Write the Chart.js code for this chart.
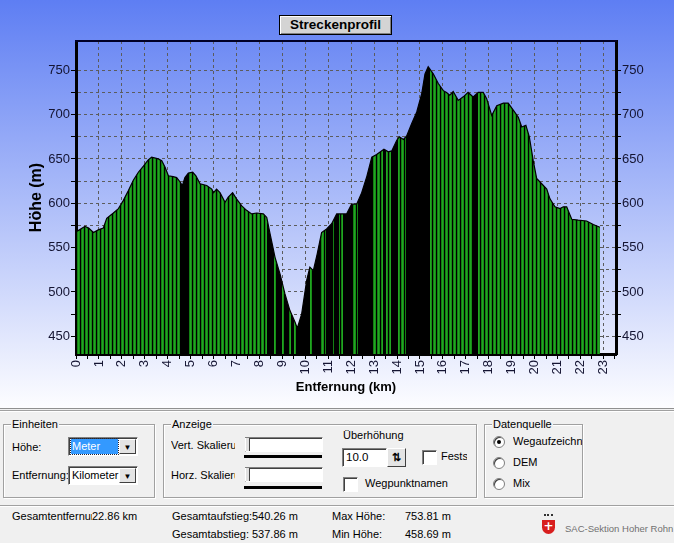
<!DOCTYPE html>
<html>
<head>
<meta charset="utf-8">
<script src="https://cdn.jsdelivr.net/npm/chart.js@4.4.0/dist/chart.umd.min.js"></script>
<style>
html, body { margin: 0; padding: 0; }
body { width: 674px; height: 543px; position: relative; overflow: hidden; background: #f0f0f0;
       font-family: "Liberation Sans", Arial, sans-serif; font-size: 11px; color: #000; }
.abs { position: absolute; white-space: nowrap; }
#plot { position: absolute; left: 0; top: 0; width: 674px; height: 408px;
        background: linear-gradient(#5e7ef3, #fdfdff); border-bottom: 1px solid #909090; }
#plot canvas { position: absolute; left: 0; top: 0; }
#title { position: absolute; left: 279px; top: 15px; width: 111px; height: 18px; border: 1px solid #000;
         background: #d4d4d4; box-shadow: inset 1px 1px #fff, inset -1px -1px #808080;
         font: bold 13.5px "Liberation Sans", Arial, sans-serif; text-align: center; line-height: 18px; }
.sep { position: absolute; left: 0; width: 674px; height: 1px; background: #a0a0a0; box-shadow: 0 1px #fff; }
.group { position: absolute; border: 1px solid #a0a0a0; box-shadow: 1px 1px #fff, inset 1px 1px #fff; }
.legend { position: absolute; top: -7px; left: 7px; background: #f0f0f0; padding: 0 1px; line-height: 13px; }
.sunken { position: absolute; background: #fff; border-top: 1px solid #808080; border-left: 1px solid #808080;
          border-right: 1px solid #fff; border-bottom: 1px solid #fff; box-shadow: inset 1px 1px #404040; box-sizing: border-box; }
.btn { position: absolute; background: #e4e4e4; border-top: 1px solid #fff; border-left: 1px solid #fff;
       border-right: 1px solid #404040; border-bottom: 1px solid #404040; box-sizing: border-box;
       font-size: 8px; text-align: center; line-height: 15px; }
.radio { position: absolute; width: 12px; height: 12px; border-radius: 50%; background: #fff;
         border: 1px solid #808080; box-sizing: border-box; box-shadow: inset 1px 1px #404040; }
.dot { position: absolute; left: 3px; top: 3px; width: 4px; height: 4px; border-radius: 50%; background: #000; }
.track { position: absolute; height: 3px; background: #000; }
.thumb { position: absolute; width: 3px; height: 13px; border-left: 1px solid #fff; border-right: 1px solid #404040; background: #e0e0e0; }
.clip { display: inline-block; overflow: hidden; vertical-align: top; }
</style>
</head>
<body>
<div id="plot">
  <canvas id="profile" width="674" height="408"></canvas>
  <div id="title">Streckenprofil</div>
</div>
<div class="sep" style="top:410px"></div>

<div class="group" style="left:3px;top:424px;width:150px;height:72px">
  <div class="legend">Einheiten</div>
</div>
<div class="abs" style="left:12px;top:441px">Höhe:</div>
<div class="sunken" style="left:68px;top:437px;width:70px;height:19px">
  <div class="abs" style="left:2px;top:1px;width:46px;height:15px;background:#3399ff;color:#fff;outline:1px dotted #223;line-height:15px;padding-left:1px">Meter</div>
  <div class="btn" style="left:50px;top:1px;width:17px;height:15px">▼</div>
</div>
<div class="abs" style="left:12px;top:469px">Entfernung:</div>
<div class="sunken" style="left:68px;top:466px;width:70px;height:19px">
  <div class="abs" style="left:3px;top:1px;line-height:15px">Kilometer</div>
  <div class="btn" style="left:50px;top:1px;width:17px;height:15px">▼</div>
</div>

<div class="group" style="left:163px;top:424px;width:312px;height:72px">
  <div class="legend">Anzeige</div>
</div>
<div class="abs" style="left:171px;top:439px;width:64px;overflow:hidden">Vert. Skalierung</div>
<div class="sunken" style="left:245px;top:437px;width:78px;height:15px"></div>
<div class="thumb" style="left:245px;top:438px"></div>
<div class="track" style="left:244px;top:455px;width:78px"></div>
<div class="abs" style="left:171px;top:469px;width:64px;overflow:hidden">Horz. Skalierung</div>
<div class="sunken" style="left:245px;top:467px;width:78px;height:15px"></div>
<div class="thumb" style="left:245px;top:468px"></div>
<div class="track" style="left:244px;top:486px;width:78px"></div>
<div class="abs" style="left:343px;top:429px">Überhöhung</div>
<div class="sunken" style="left:342px;top:448px;width:45px;height:19px">
  <div class="abs" style="left:3px;top:2px;font-size:11.5px">10.0</div>
</div>
<div class="btn" style="left:387px;top:448px;width:19px;height:19px;font-size:11px;line-height:17px;font-weight:bold">⇅</div>
<div class="sunken" style="left:422px;top:450px;width:15px;height:15px"></div>
<div class="abs" style="left:441px;top:450px;width:26px;overflow:hidden">Festsetzen</div>
<div class="sunken" style="left:343px;top:477px;width:15px;height:15px"></div>
<div class="abs" style="left:365px;top:477px">Wegpunktnamen</div>

<div class="group" style="left:484px;top:424px;width:97px;height:72px">
  <div class="legend">Datenquelle</div>
</div>
<div class="radio" style="left:493px;top:436px"><div class="dot"></div></div>
<div class="abs" style="left:513px;top:435px;width:69px;overflow:hidden">Wegaufzeichnung</div>
<div class="radio" style="left:493px;top:457px"></div>
<div class="abs" style="left:513px;top:456px">DEM</div>
<div class="radio" style="left:493px;top:478px"></div>
<div class="abs" style="left:513px;top:477px">Mix</div>

<div class="sep" style="top:505px"></div>
<div class="abs" style="left:12px;top:510px"><span class="clip" style="width:80px">Gesamtentfernung:</span>22.86 km</div>
<div class="abs" style="left:172px;top:510px"><span class="clip" style="width:80px">Gesamtaufstieg:</span>540.26 m</div>
<div class="abs" style="left:172px;top:528px"><span class="clip" style="width:80px">Gesamtabstieg:</span>537.86 m</div>
<div class="abs" style="left:332px;top:510px">Max Höhe:</div>
<div class="abs" style="left:405px;top:510px">753.81 m</div>
<div class="abs" style="left:332px;top:528px">Min Höhe:</div>
<div class="abs" style="left:405px;top:528px">458.69 m</div>
<div class="abs" style="left:542px;top:520px;width:13px;height:14px;background:#d81e1e;border-radius:0 0 7px 7px;color:#fff;font:bold 12px 'DejaVu Sans';text-align:center;line-height:13px">+</div>
<div class="abs" style="left:544px;top:514px;width:9px;height:6px;border-top:2px dotted #333"></div>
<div class="abs" style="left:565px;top:523px;font-size:9.5px;color:#707070">SAC-Sektion Hoher Rohn</div>

<script>
// elevation profile
var distKm = [0.0, 0.15, 0.39, 0.55, 0.76, 0.97, 1.19, 1.34, 1.63, 1.85,
    2.06, 2.28, 2.5, 2.72, 2.94, 3.15, 3.3, 3.59, 3.74, 3.88,
    4.03, 4.24, 4.39, 4.54, 4.64, 4.75, 4.9, 5.09, 5.23, 5.41,
    5.7, 5.92, 6.0, 6.13, 6.28, 6.5, 6.64, 6.83, 7.0, 7.23,
    7.44, 7.66, 7.88, 8.17, 8.32, 8.46, 8.68, 8.9, 9.11, 9.33,
    9.55, 9.65, 9.84, 10.06, 10.2, 10.35, 10.52, 10.71, 10.93, 11.15,
    11.37, 11.8, 12.02, 12.24, 12.46, 12.67, 12.9, 13.11, 13.43, 13.62,
    13.77, 13.99, 14.1, 14.28, 14.42, 14.64, 14.86, 15.08, 15.22, 15.36,
    15.58, 15.8, 16.02, 16.16, 16.3, 16.45, 16.67, 16.89, 17.1, 17.32,
    17.54, 17.76, 17.91, 18.13, 18.35, 18.64, 18.85, 19.07, 19.29, 19.44,
    19.62, 19.77, 19.94, 20.09, 20.31, 20.53, 20.67, 20.89, 21.11, 21.25,
    21.4, 21.62, 21.9, 22.27, 22.56, 22.85];
var heightM = [568, 570, 574, 572, 567, 570, 572, 583, 589, 594,
    603, 614, 626, 635, 642, 649, 652, 650, 648, 641,
    631, 630, 629, 624, 620, 629, 634, 635, 631, 622,
    620, 616, 612, 616, 612, 601, 607, 612, 605, 597,
    592, 588, 589, 588, 584, 566, 539, 520, 498, 479,
    466, 459, 475, 513, 528, 524, 543, 567, 571, 577,
    588, 588, 599, 599, 612, 629, 652, 655, 661, 658,
    659, 671, 675, 672, 676, 690, 703, 724, 746, 754,
    746, 735, 727, 725, 722, 726, 716, 720, 725, 720,
    725, 725, 718, 699, 710, 713, 713, 705, 697, 686,
    688, 675, 648, 628, 622, 616, 605, 596, 594, 596,
    596, 582, 581, 580, 576, 573];
var xLabelKm = [0, 1, 2, 3, 4, 5, 6, 7, 8, 9, 10, 11, 12, 13, 14, 15, 16, 17, 18, 19, 20, 21, 22, 23];
var yLabelM = [450, 500, 550, 600, 650, 700, 750];

// stretches where the recorded points sit so close that the bars merge to black
var denseKm = [[4.58, 4.9], [8.35, 8.62], [8.72, 8.98], [9.08, 9.28], [9.38, 9.5], [9.6, 10.22],
    [10.35, 10.68], [10.9, 11.15], [11.25, 11.48], [11.65, 12.05], [12.3, 12.95],
    [13.38, 13.52], [13.75, 14.05], [14.4, 15.45], [17.3, 17.55]];
var stripeColors = ['#000000', '#137f13', '#22a522', '#168c16'];

Chart.defaults.font.family = '"Liberation Sans", Arial, sans-serif';

function stripeFill(chart) {
    var area = chart.chartArea;
    if (!area) return '#168c16';
    var c = document.createElement('canvas');
    c.width = chart.width;
    c.height = 1;
    var g = c.getContext('2d');
    var xs = chart.scales.x;
    for (var px = Math.floor(area.left); px < Math.ceil(area.right); px++) {
        var km = xs.getValueForPixel(px + 0.5);
        var dense = denseKm.some(function(r) { return km >= r[0] && km <= r[1]; });
        g.fillStyle = dense ? '#000' : stripeColors[px % stripeColors.length];
        g.fillRect(px, 0, 1, 1);
    }
    return chart.ctx.createPattern(c, 'repeat');
}

var tickFont = {size: 13};
var tickColor = '#141432';
var gridGray = '#5c5c5c';

var yTicks = {
    stepSize: 25, includeBounds: false, autoSkip: false, maxTicksLimit: 100,
    padding: 1, color: tickColor, font: tickFont,
    callback: function(v) {
        if (v > 760) return null;
        return yLabelM.indexOf(v) >= 0 ? String(v) : '';
    }
};

var topLine = {
    id: 'topLine',
    afterDraw: function(chart) {
        var a = chart.chartArea, ctx = chart.ctx;
        ctx.save();
        ctx.strokeStyle = '#000028';
        ctx.lineWidth = 2;
        ctx.beginPath();
        ctx.moveTo(a.left - 1, a.top);
        ctx.lineTo(a.right + 1, a.top);
        ctx.stroke();
        ctx.restore();
    }
};

new Chart(document.getElementById('profile'), {
    type: 'line',
    data: {
        datasets: [{
            data: distKm.map(function(d, i) { return {x: d, y: heightM[i]}; }),
            borderColor: '#000',
            borderWidth: 1.2,
            pointRadius: 0,
            tension: 0,
            fill: 'start',
            backgroundColor: function(ctx) { return stripeFill(ctx.chart); }
        }]
    },
    options: {
        responsive: false,
        animation: false,
        layout: {padding: {top: 41, left: 0, right: 0, bottom: 0}},
        plugins: {legend: {display: false}, tooltip: {enabled: false}, title: {display: false}},
        scales: {
            x: {
                type: 'linear', min: 0, max: 23.55,
                afterFit: function(s) { s.height = 54; },
                ticks: {
                    stepSize: 0.5, includeBounds: false, autoSkip: false, maxTicksLimit: 100,
                    minRotation: 90, maxRotation: 90, padding: 1, color: tickColor, font: tickFont,
                    callback: function(v) { return xLabelKm.indexOf(v) >= 0 ? String(v) : ''; }
                },
                grid: {
                    color: function(ctx) { return ctx.tick && Number.isInteger(ctx.tick.value) ? gridGray : 'rgba(0,0,0,0)'; },
                    tickColor: '#000', tickLength: 5, tickBorderDash: [0, 0]
                },
                border: {width: 3, color: '#000', dash: [3, 3]},
                title: {display: true, text: 'Entfernung (km)', color: '#000',
                        font: {size: 13, weight: 'bold'}, padding: {top: 0, bottom: 13}}
            },
            y: {
                position: 'left', min: 430, max: 783,
                afterFit: function(s) { s.width = 76; },
                ticks: yTicks,
                grid: {color: gridGray, tickColor: '#000', tickLength: 5, tickBorderDash: [0, 0]},
                border: {width: 3, color: '#000', dash: [3, 3]},
                title: {display: true, text: 'Höhe (m)', color: '#000',
                        font: {size: 16, weight: 'bold'}, padding: {top: 27, bottom: 0}}
            },
            y2: {
                position: 'right', min: 430, max: 783,
                afterFit: function(s) { s.width = 58; },
                ticks: yTicks,
                grid: {drawOnChartArea: false, tickColor: '#000', tickLength: 5, tickBorderDash: [0, 0]},
                border: {width: 3, color: '#000'}
            }
        }
    },
    plugins: [topLine]
});
</script>
</body>
</html>
